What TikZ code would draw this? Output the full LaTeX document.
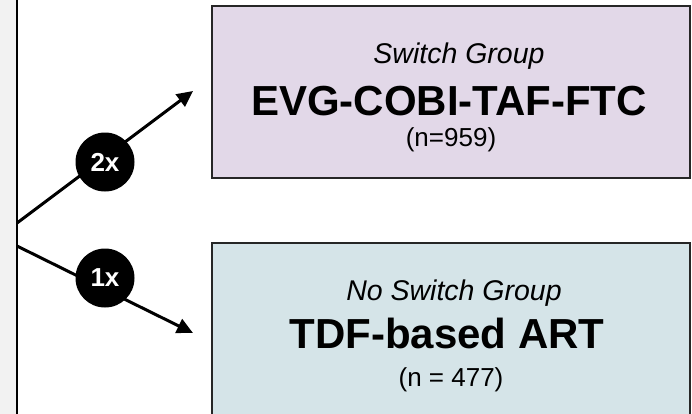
\documentclass[tikz,border=0pt]{standalone}
\usepackage{fontspec}
\setmainfont{Liberation Sans}
\usetikzlibrary{arrows.meta}

\definecolor{switchfill}{RGB}{226,216,232}
\definecolor{stayfill}{RGB}{213,228,232}
\definecolor{basefill}{RGB}{242,242,242}

\begin{document}
\begin{tikzpicture}[
    x=1pt, y=-1pt,
    grp/.style={draw=black!85, line width=1.6pt, minimum width=478pt,
                inner sep=0pt},
    badge/.style={circle, fill=black, text=white, minimum size=59pt,
                  inner sep=0pt, font=\bfseries\fontsize{26}{26}\selectfont},
    conn/.style={line width=3pt, -{Triangle[length=16pt, width=15pt]}},
    tag/.style={anchor=base, font=\itshape\fontsize{28.5}{30}\selectfont},
    arm/.style={anchor=base, font=\bfseries\fontsize{42}{44}\selectfont},
    cnt/.style={anchor=base, font=\fontsize{26}{28}\selectfont},
  ]
  \clip (0,0) rectangle (692,413);
  \fill[white] (0,0) rectangle (692,413);

  % ---------------------------------------------------------------
  % origin bar on the left edge
  % ---------------------------------------------------------------
  \draw[fill=basefill, line width=1.6pt] (-10,-10) rectangle (17,430);
  \coordinate (root1) at (17,223);
  \coordinate (root2) at (17,246);

  % ---------------------------------------------------------------
  % the two groups
  % ---------------------------------------------------------------
  \node[grp, fill=switchfill, minimum height=172pt] (switch) at (451,92) {};
  \node[tag] (switchtag) at (459,63) {Switch Group};
  \node[arm] (switcharm) at (449,115) {EVG-COBI-TAF-FTC};
  \node[cnt] (switchn) at (451,146) {(n=959)};

  \node[grp, fill=stayfill, minimum height=200pt] (stay) at (451,343) {};
  \node[tag] (staytag) at (454,300) {No Switch Group};
  \node[arm] (stayarm) at (447,348) {TDF-based ART};
  \node[cnt] (stayn) at (451,386) {(n = 477)};

  % ---------------------------------------------------------------
  % split arrows with ratio badges
  % ---------------------------------------------------------------
  \coordinate (tip1) at (193,91);
  \coordinate (tip2) at (193,333);
  \draw[conn] (root1) -- (tip1);
  \draw[conn] (root2) -- (tip2);

  \node[badge] (two) at (105,162) {2x};
  \node[badge] (one) at (105,278) {1x};
\end{tikzpicture}
\end{document}
